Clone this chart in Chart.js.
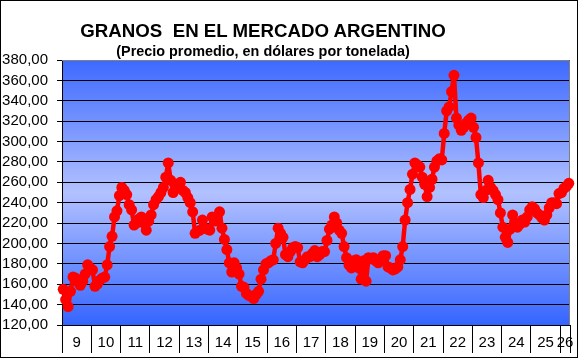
<!DOCTYPE html>
<html>
<head>
<meta charset="utf-8">
<script src="https://cdn.jsdelivr.net/npm/chart.js@4.4.1/dist/chart.umd.min.js"></script>
<style>
  html, body { margin: 0; padding: 0; background: #fff; }
  #wrap { position: relative; width: 578px; height: 359px; }
  #frame { position: absolute; left: 0; top: 0; width: 578px; height: 358px; box-sizing: border-box; border: 1px solid #000; pointer-events: none; }
  .ttl { position: absolute; left: 0; width: 526px; text-align: center; font-family: 'Liberation Sans', Arial, sans-serif; font-weight: bold; line-height: 1; white-space: pre; color: #000; }
</style>
</head>
<body>
<div id="wrap">
  <canvas id="granosChart" width="578" height="359"></canvas>
  <div class="ttl" style="top:21.5px; font-size:18.7px;">GRANOS  EN EL MERCADO ARGENTINO</div>
  <div class="ttl" style="top:43.5px; font-size:14.4px;">(Precio promedio, en dólares por tonelada)</div>
  <div id="frame"></div>
</div>
<script>
// Year labels on the x axis (2009 .. 2026)
const yearLabels = ['9', '10', '11', '12', '13', '14', '15', '16', '17', '18', '19', '20', '21', '22', '23', '24', '25', '26'];

// Monthly average price, USD per tonne
const y2009 = [155, 145, 138, 153, 167, 166, 162, 159, 163, 170, 179, 176];
const y2010 = [174, 158, 160, 164, 166, 167, 179, 197, 207, 226, 232, 247];
const y2011 = [255, 252, 248, 238, 233, 218, 220, 224, 226, 220, 213, 222];
const y2012 = [228, 238, 243, 246, 250, 255, 265, 279, 262, 250, 254, 258];
const y2013 = [260, 252, 250, 245, 240, 231, 210, 212, 213, 223, 215, 214];
const y2014 = [213, 226, 222, 226, 231, 215, 204, 194, 181, 172, 181, 176];
const y2015 = [170, 158, 157, 151, 149, 148, 146, 150, 153, 165, 174, 180];
const y2016 = [181, 183, 184, 200, 215, 210, 206, 189, 187, 192, 196, 197];
const y2017 = [196, 182, 181, 184, 187, 187, 190, 193, 187, 189, 192, 192];
const y2018 = [203, 214, 218, 226, 220, 213, 210, 197, 186, 179, 176, 183];
const y2019 = [184, 176, 165, 183, 163, 186, 185, 186, 183, 181, 184, 188];
const y2020 = [188, 177, 176, 174, 175, 177, 184, 197, 223, 240, 253, 268];
const y2021 = [279, 277, 275, 265, 258, 246, 255, 263, 275, 281, 283, 282];
const y2022 = [308, 330, 334, 349, 365, 323, 316, 311, 314, 318, 321, 323];
const y2023 = [314, 304, 279, 248, 245, 252, 262, 255, 252, 248, 243, 230];
const y2024 = [216, 206, 201, 214, 228, 220, 216, 219, 223, 221, 226, 233];
const y2025 = [236, 234, 230, 228, 225, 223, 228, 235, 240, 240, 239, 249];
const y2026 = [250, 254, 256, 259];

const yearValues = [y2009, y2010, y2011, y2012, y2013, y2014, y2015, y2016, y2017,
                    y2018, y2019, y2020, y2021, y2022, y2023, y2024, y2025, y2026];

// One point per month, centred in its month slot
const points = [];
yearValues.forEach(arr => arr.forEach(v => points.push({ x: points.length + 0.5, y: v })));

// Year boundaries get the divider ticks, year middles get the labels
const boundaries = [];
const mids = {};
let start = 0;
yearValues.forEach((arr, i) => {
    boundaries.push(start);
    mids[start + arr.length / 2] = yearLabels[i];
    start += arr.length;
});
boundaries.push(start);

// Blue gradient behind the plot, grey frame on top/right
const plotBackground = {
    id: 'plotBackground',
    beforeDraw(chart) {
        const { ctx, chartArea: a } = chart;
        const g = ctx.createLinearGradient(0, a.top, 0, a.bottom);
        g.addColorStop(0, '#3d69ff');
        g.addColorStop(0.5, '#b2c1ff');
        g.addColorStop(1, '#3565ff');
        ctx.save();
        ctx.fillStyle = g;
        ctx.fillRect(a.left, a.top, a.width, a.height);
        ctx.restore();
    },
    beforeDatasetsDraw(chart) {
        const { ctx, chartArea: a } = chart;
        ctx.save();
        ctx.strokeStyle = '#808080';
        ctx.lineWidth = 1;
        ctx.beginPath();
        ctx.moveTo(a.left, a.top + 0.5);
        ctx.lineTo(a.right - 0.5, a.top + 0.5);
        ctx.lineTo(a.right - 0.5, a.bottom);
        ctx.stroke();
        ctx.restore();
    }
};

const font = { family: "'Liberation Sans', Arial, sans-serif", size: 15 };

const ctx = document.getElementById('granosChart').getContext('2d');
const granosChart = new Chart(ctx, {
    type: 'line',
    data: {
        datasets: [{
            data: points,
            borderColor: '#ff0000',
            backgroundColor: '#ff0000',
            borderWidth: 4.5,
            borderJoinStyle: 'round',
            pointRadius: 5.5,
            pointBorderWidth: 0,
            pointBackgroundColor: '#ff0000',
            tension: 0,
            clip: false
        }]
    },
    options: {
        responsive: false,
        animation: false,
        devicePixelRatio: 1,
        layout: { padding: { left: 2, right: 8, top: 60, bottom: 7 } },
        plugins: {
            legend: { display: false },
            tooltip: { enabled: false },
            title: { display: false }
        },
        scales: {
            x: {
                type: 'linear',
                min: 0,
                max: start,
                afterBuildTicks: scale => {
                    const vals = boundaries.concat(Object.keys(mids).map(Number)).sort((a, b) => a - b);
                    scale.ticks = vals.map(v => ({ value: v }));
                },
                afterFit: scale => { scale.height = 27; },
                ticks: {
                    autoSkip: false,
                    maxRotation: 0,
                    minRotation: 0,
                    padding: -19,
                    color: '#000',
                    font: font,
                    callback: v => (mids[v] !== undefined ? mids[v] : '')
                },
                grid: {
                    drawOnChartArea: false,
                    drawTicks: true,
                    tickLength: 28,
                    color: c => (c.tick && boundaries.includes(c.tick.value) ? '#000' : 'rgba(0,0,0,0)')
                },
                border: { display: true, color: '#000', width: 1 }
            },
            y: {
                min: 120,
                max: 380,
                afterFit: scale => { scale.width = 60; },
                ticks: {
                    stepSize: 20,
                    autoSkip: false,
                    padding: 9,
                    color: '#000',
                    font: font,
                    callback: v => v.toFixed(2).replace('.', ',')
                },
                grid: { color: '#000', tickLength: 5 },
                border: { display: true, color: '#000', width: 1 }
            }
        }
    },
    plugins: [plotBackground]
});
</script>
</body>
</html>
